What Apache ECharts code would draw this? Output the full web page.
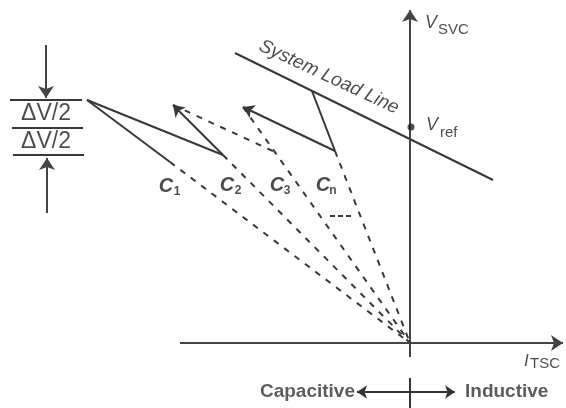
<!DOCTYPE html>
<html>
<head>
<meta charset="utf-8">
<script src="https://cdn.jsdelivr.net/npm/echarts@6/dist/echarts.min.js"></script>
<style>html,body{margin:0;padding:0;background:#fff}#c{width:566px;height:408px}</style>
</head>
<body>
<div id="c"></div>
<script>
// Diagram coordinates: origin at the axes crossing, x to the right, y upward
const loadLine = [[-175, 290], [83, 163]];
const c1Solid = [[-323, 243], [-240, 181]];
const c1Dash = [[-240, 181], [0, 0]];
const c2Jump = [[-187, 188], [-237, 238]];
const c2Dash = [[-187, 188], [0, 0]];
const c3Dash = [[-167, 236], [0, 0]];
const cnSolid = [[-98, 252], [-75, 192]];
const cnDash = [[-75, 192], [0, 0]];
const ramp1 = [[-323, 243], [-187, 188]];
const ramp2 = [[-237, 238], [-135, 191]];
const ramp3 = [[-75, 192], [-167, 236]];
const ellipsis = [[-80, 127], [-57, 127]];
const hAxis = [[-230, 0], [153, 0]];
const vAxis = [[0, -14], [0, 333]];
const vAxisBold = [[0, 143], [0, 203]];
const vRef = [1, 216];
const dvLines = [[[-400, 243], [-328, 243]], [[-398, 215], [-327, 215]], [[-397, 188], [-326, 188]]];
const dvArrows = [[[-364, 298], [-364, 245]], [[-363, 130], [-363, 185]]];
const dirArrows = [[[0, -49], [-53, -49]], [[0, -49], [45, -49]]];
const dirTick = [[0, -35], [0, -65]];
const capLabels = ['C', 'C', 'C', 'C'];
const capSubs = ['1', '2', '3', 'n'];
const capLabelPos = [[-244, 157], [-183, 158], [-133, 158], [-87, 158]];
const capSubPos = [[-233, 151], [-172, 152], [-123, 152], [-77, 152]];

const FONT = '"Liberation Sans", Arial, sans-serif';
const INK = '#383838';

function seg(pts) { return { coords: pts }; }
function txt(pos, text, extra) {
  return { value: pos, label: Object.assign({ show: true, formatter: text, position: [0, 0], align: 'center', verticalAlign: 'middle', color: '#1e1e1e', fontFamily: FONT, fontSize: 16 }, extra || {}) };
}

const labels = [];
capLabels.forEach((c, i) => {
  labels.push(txt(capLabelPos[i], c, { fontSize: 20, fontStyle: 'italic', fontWeight: 'bold' }));
  labels.push(txt(capSubPos[i], capSubs[i], { fontSize: 12, fontWeight: 'bold' }));
});
labels.push(txt([-81, 266], 'System Load Line', { fontSize: 19, fontStyle: 'italic', rotate: -25 }));
labels.push(txt([15, 320], 'V', { fontSize: 18, fontStyle: 'italic', align: 'left' }));
labels.push(txt([28, 313], 'SVC', { fontSize: 15, align: 'left' }));
labels.push(txt([16, 218], 'V', { fontSize: 18, fontStyle: 'italic', align: 'left' }));
labels.push(txt([30, 210], 'ref', { fontSize: 15, align: 'left' }));
labels.push(txt([114, -18], 'I', { fontSize: 17, fontStyle: 'italic', align: 'left' }));
labels.push(txt([120, -21], 'TSC', { fontSize: 15, align: 'left' }));
labels.push(txt([-55, -49], 'Capacitive', { fontSize: 19, fontWeight: 'bold', align: 'right', color: '#333' }));
labels.push(txt([55, -49], 'Inductive', { fontSize: 19, fontWeight: 'bold', align: 'left', color: '#333' }));
labels.push(txt([-364, 229], 'ΔV/2', { fontSize: 23 }));
labels.push(txt([-364, 201], 'ΔV/2', { fontSize: 23 }));

const chart = echarts.init(document.getElementById('c'), null, { renderer: 'canvas' });
chart.setOption({
  animation: false,
  backgroundColor: '#fff',
  grid: { left: 0, right: 0, top: 0, bottom: 0 },
  xAxis: { type: 'value', min: -410, max: 156, show: false },
  yAxis: { type: 'value', min: -65, max: 343, show: false },
  series: [
    { type: 'lines', coordinateSystem: 'cartesian2d', z: 2,
      lineStyle: { color: INK, width: 2, opacity: 1 },
      data: [loadLine, c1Solid, cnSolid, ramp1, dvLines[0], dvLines[1], dvLines[2], dirTick].map(seg) },
    { type: 'lines', coordinateSystem: 'cartesian2d', z: 2,
      lineStyle: { color: '#222', width: 2, opacity: 1 },
      data: [vAxisBold].map(seg) },
    { type: 'lines', coordinateSystem: 'cartesian2d', z: 2,
      lineStyle: { color: INK, width: 2, opacity: 1, type: [6, 7] },
      data: [c1Dash, c2Dash, c3Dash, cnDash, ramp2].map(seg) },
    { type: 'lines', coordinateSystem: 'cartesian2d', z: 2,
      lineStyle: { color: INK, width: 1.8, opacity: 1, type: [5, 3] },
      data: [ellipsis].map(seg) },
    { type: 'lines', coordinateSystem: 'cartesian2d', z: 3,
      symbol: ['none', 'arrow'], symbolSize: 11,
      lineStyle: { color: INK, width: 2, opacity: 1 },
      data: [c2Jump, ramp3].map(seg) },
    { type: 'lines', coordinateSystem: 'cartesian2d', z: 3,
      symbol: ['none', 'arrow'], symbolSize: 12,
      lineStyle: { color: '#444', width: 2, opacity: 1 },
      data: [hAxis, vAxis].concat(dvArrows).map(seg) },
    { type: 'lines', coordinateSystem: 'cartesian2d', z: 3,
      symbol: ['none', 'arrow'], symbolSize: 10,
      lineStyle: { color: '#333', width: 2, opacity: 1 },
      data: dirArrows.map(seg) },
    { type: 'scatter', z: 4, symbol: 'circle', symbolSize: 7,
      itemStyle: { color: '#222' }, data: [vRef] },
    { type: 'scatter', z: 5, symbolSize: 0, silent: true, data: labels }
  ]
});
</script>
</body>
</html>
